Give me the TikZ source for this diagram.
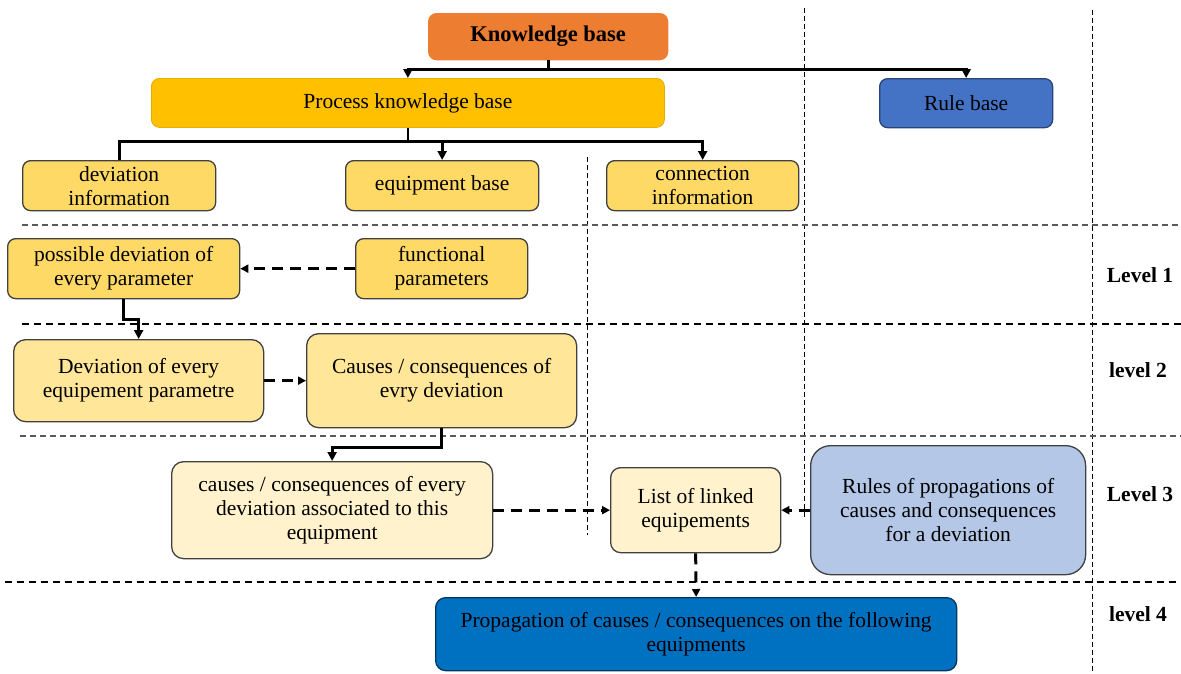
\documentclass[tikz,border=0pt]{standalone}
\usepackage{fontspec}
\setmainfont{Liberation Serif}
\usetikzlibrary{arrows.meta}
\definecolor{kbc}{HTML}{ED7D31}
\definecolor{pkbc}{HTML}{FFC000}
\definecolor{rbc}{HTML}{4472C4}
\definecolor{lvA}{HTML}{FFD966}
\definecolor{lvB}{HTML}{FFE699}
\definecolor{lvC}{HTML}{FFF2CC}
\definecolor{rulc}{HTML}{B4C7E7}
\definecolor{propc}{HTML}{0070C0}
\definecolor{bord}{HTML}{404040}
\tikzset{
  box/.style={draw=bord, line width=1.3pt, rounded corners=8pt, anchor=north west, align=center, inner sep=2pt,
    font=\fontsize{21.5}{24}\selectfont},
  conn/.style={line width=2.8pt, black},
  arr/.style={conn, -{Triangle[length=9pt,width=9pt]}},
  darr/.style={line width=3pt, black, dash pattern=on 11pt off 7pt, -{Triangle[length=8pt,width=8pt]}},
  gridgray/.style={line width=1.5pt, black!65, dash pattern=on 6pt off 4pt},
  gridblack/.style={line width=2.3pt, black, dash pattern=on 7pt off 5pt},
  gridv/.style={line width=0.9pt, black, dash pattern=on 5pt off 3pt},
  lvl/.style={font=\fontsize{21.5}{24}\selectfont\bfseries}
}
\begin{document}
\begin{tikzpicture}[x=1pt,y=-1pt]
\useasboundingbox (0,0) rectangle (1181,673);
% grid lines
\draw[gridv] (587,157) -- (587,535);
\draw[gridv] (804,8) -- (804,519);
\draw[gridv] (1092,10) -- (1092,673);
\draw[gridgray] (22,225) -- (1181,225);
\draw[gridblack] (22,324) -- (1181,324);
\draw[gridgray] (20,436) -- (1181,436);
\draw[gridblack] (5,582) -- (1181,582);
% nodes
\node[box, fill=kbc, draw=kbc, minimum width=239pt, minimum height=46pt, font=\fontsize{22.5}{24}\selectfont\bfseries] (kb) at (428,13) {Knowledge base};
\node[box, fill=pkbc, draw=pkbc!90!black, line width=0.8pt, minimum width=513pt, minimum height=49pt] (pkb) at (151,78) {Process knowledge base};
\node[box, fill=rbc, draw=rbc!60!black, minimum width=173pt, minimum height=49pt] (rb) at (879,78) {Rule base};
\node[box, fill=lvA, minimum width=193pt, minimum height=50pt] (devinfo) at (22,160) {deviation\\information};
\node[box, fill=lvA, minimum width=193pt, minimum height=50pt] (eqbase) at (345,160) {equipment base};
\node[box, fill=lvA, minimum width=192pt, minimum height=50pt] (conninfo) at (606,160) {connection\\information};
\node[box, fill=lvA, minimum width=232pt, minimum height=60pt] (possdev) at (7,238) {possible deviation of\\every parameter};
\node[box, fill=lvA, minimum width=172pt, minimum height=60pt] (funcpar) at (355,238) {functional\\parameters};
\node[box, fill=lvB, rounded corners=12pt, minimum width=250pt, minimum height=82pt] (devequip) at (13,339) {Deviation of every\\equipement parametre};
\node[box, fill=lvB, rounded corners=12pt, minimum width=270pt, minimum height=94pt] (causes) at (306,333) {Causes / consequences of\\evry deviation};
\node[box, fill=lvC, rounded corners=12pt, minimum width=321pt, minimum height=97pt] (ccassoc) at (171,461) {causes / consequences of every\\deviation associated to this\\equipment};
\node[box, fill=lvC, rounded corners=10pt, minimum width=170pt, minimum height=85pt] (list) at (610,467) {List of linked\\equipements};
\node[box, fill=rulc, rounded corners=20pt, minimum width=275pt, minimum height=129pt] (rules) at (810,445) {Rules of propagations of\\causes and consequences\\for a deviation};
\node[box, fill=propc, draw=propc!50!black, rounded corners=10pt, minimum width=521pt, minimum height=73pt] (prop) at (435,597) {Propagation of causes / consequences on the following\\equipments};
% level labels
\node[lvl] (l1) at (1140,275) {Level 1};
\node[lvl] (l2) at (1138,370) {level 2};
\node[lvl] (l3) at (1140,494) {Level 3};
\node[lvl] (l4) at (1138,614) {level 4};
% connectors
\draw[conn] (kb.south) -- ++(0,9) coordinate (kbj);
\draw[arr] (kbj) -| (pkb.north);
\draw[arr] (kbj) -| (rb.north);
\draw[conn] (pkb.south) -- ++(0,14) coordinate (pj);
\draw[conn] (pj) -| (devinfo.north);
\draw[arr] (pj) -| (eqbase.north);
\draw[arr] (pj) -| (conninfo.north);
\draw[darr] (funcpar.west) -- (possdev.east);
\draw[arr] (possdev.south) -- ++(0,20) -| (devequip.north);
\draw[darr] (devequip.east) -- (causes.west);
\draw[arr] (causes.south) -- ++(0,19) -| (ccassoc.north);
\draw[darr] (ccassoc.east) -- (list.west);
\draw[darr] (rules.west) -- (list.east);
\draw[darr] (list.south) -- (prop.north);
\end{tikzpicture}
\end{document}
